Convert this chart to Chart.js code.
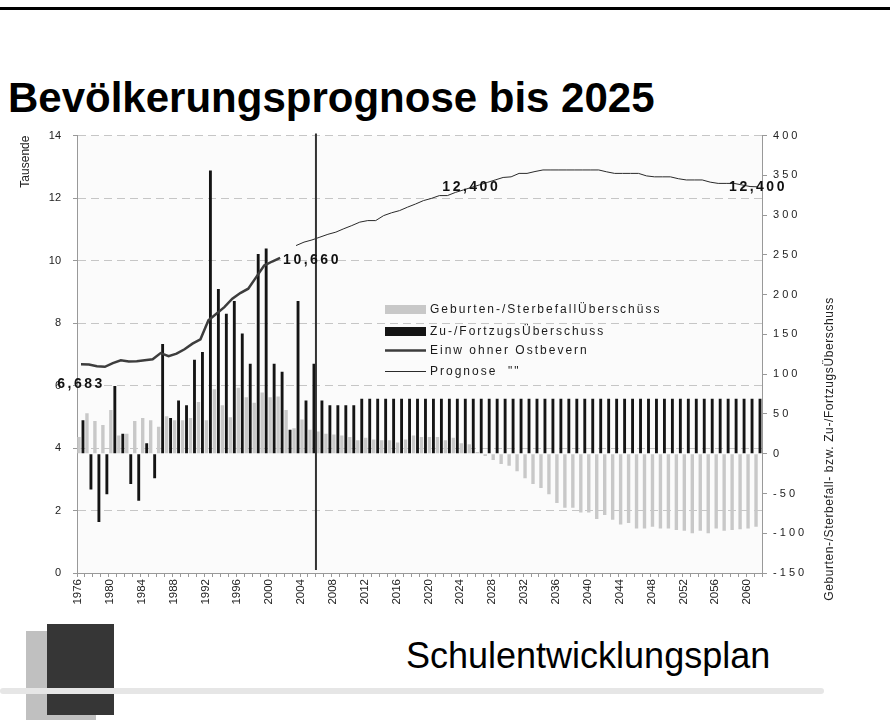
<!DOCTYPE html>
<html lang="de">
<head>
<meta charset="utf-8">
<title>Bevölkerungsprognose bis 2025</title>
<script src="https://cdn.jsdelivr.net/npm/chart.js@4.4.1/dist/chart.umd.min.js"></script>
<style>
  html, body { margin: 0; padding: 0; background: #fff; }
  body { position: relative; width: 890px; height: 720px; overflow: hidden;
         font-family: "Liberation Sans", Arial, Helvetica, sans-serif; color: #000; }
  .rule { position: absolute; left: 0; top: 7px; width: 890px; height: 3px; background: #000; }
  h1 { position: absolute; left: 8px; top: 77px; margin: 0; font-size: 42px; line-height: 42px;
       font-weight: bold; white-space: nowrap; }
  #wrap { position: absolute; left: 0; top: 117px; width: 890px; height: 503px; }
  .blk-grey { position: absolute; left: 26px; top: 631px; width: 70px; height: 89px; background: #c0c0c0; }
  .blk-dark { position: absolute; left: 47px; top: 624px; width: 67px; height: 91px; background: #363636; }
  .band { position: absolute; left: 0; top: 688px; width: 824px; height: 6px; background: #e6e6e6; border-radius: 3px; }
  .footer { position: absolute; left: 406px; top: 638px; font-size: 36px; line-height: 36px; white-space: nowrap; }
</style>
</head>
<body>
<div class="rule"></div>
<h1>Bevölkerungsprognose bis 2025</h1>
<div id="wrap"><canvas id="chart" width="890" height="503"></canvas></div>
<div class="blk-grey"></div>
<div class="blk-dark"></div>
<div class="band"></div>
<div class="footer">Schulentwicklungsplan</div>

<script>
// years on the x axis
const years = [
  1976, 1977, 1978, 1979, 1980, 1981, 1982, 1983, 1984, 1985,
  1986, 1987, 1988, 1989, 1990, 1991, 1992, 1993, 1994, 1995,
  1996, 1997, 1998, 1999, 2000, 2001, 2002, 2003, 2004, 2005,
  2006, 2007, 2008, 2009, 2010, 2011, 2012, 2013, 2014, 2015,
  2016, 2017, 2018, 2019, 2020, 2021, 2022, 2023, 2024, 2025,
  2026, 2027, 2028, 2029, 2030, 2031, 2032, 2033, 2034, 2035,
  2036, 2037, 2038, 2039, 2040, 2041, 2042, 2043, 2044, 2045,
  2046, 2047, 2048, 2049, 2050, 2051, 2052, 2053, 2054, 2055,
  2056, 2057, 2058, 2059, 2060, 2061
];

// Geburten-/Sterbefallüberschuss (persons, right axis)
const geburtenSaldo = [
  21, 51, 41, 36, 55, 23, 25, 41, 45, 42,
  34, 47, 42, 42, 45, 65, 42, 81, 61, 46,
  83, 71, 64, 77, 71, 72, 55, 32, 43, 30,
  28, 25, 24, 23, 21, 17, 20, 18, 17, 17,
  14, 18, 23, 21, 21, 21, 17, 20, 13, 12,
  2, -3, -8, -13, -15, -22, -31, -38, -43, -51,
  -62, -68, -68, -74, -74, -82, -77, -83, -89, -87,
  -94, -94, -92, -94, -94, -96, -97, -100, -97, -100,
  -94, -97, -96, -95, -94, -92
];

// Zu-/Fortzugsüberschuss (persons, right axis)
const wanderungsSaldo = [
  42, -45, -86, -51, 85, 25, -38, -59, 13, -31,
  138, 45, 67, 61, 118, 128, 356, 207, 176, 192,
  151, 113, 251, 258, 113, 103, 30, 192, 67, 113,
  67, 61, 61, 61, 61, 69, 69, 69, 69, 69,
  69, 69, 69, 69, 69, 69, 69, 69, 69, 69,
  69, 69, 69, 69, 69, 69, 69, 69, 69, 69,
  69, 69, 69, 69, 69, 69, 69, 69, 69, 69,
  69, 69, 69, 69, 69, 69, 69, 69, 69, 69,
  69, 69, 69, 69, 69, 69
];

// Einwohner in Tausend, 1976-2001
const einwohner = [
  6.68, 6.67, 6.62, 6.60, 6.72, 6.81, 6.77, 6.78, 6.81, 6.84,
  7.04, 6.94, 7.02, 7.16, 7.34, 7.48, 8.09, 8.30, 8.51, 8.78,
  8.96, 9.10, 9.47, 9.84, 9.97, 10.09
];

// Prognose in Tausend, 2003-2061
const prognoseStart = 2003;
const prognose = [
  10.48, 10.59, 10.66, 10.75, 10.84, 10.91, 11.02, 11.12, 11.23, 11.28,
  11.28, 11.44, 11.53, 11.60, 11.71, 11.81, 11.92, 11.99, 12.08, 12.08,
  12.18, 12.26, 12.34, 12.42, 12.50, 12.58, 12.66, 12.68, 12.79, 12.79,
  12.85, 12.90, 12.90, 12.90, 12.90, 12.90, 12.90, 12.90, 12.90, 12.84,
  12.79, 12.79, 12.79, 12.79, 12.71, 12.68, 12.68, 12.68, 12.62, 12.58,
  12.58, 12.58, 12.51, 12.47, 12.47, 12.47, 12.42, 12.37, 12.36
];

const valueLabels = ['6,683', '10,660', '12,400', '12,400'];
const markerYear = 2006;
const leftAxis = { min: 0, max: 14, step: 2 };
const rightAxis = { min: -150, max: 400, step: 50 };
const rightTitle = 'Geburten-/Sterbefall- bzw. Zu-/FortzugsÜberschuss';

// pad the line series to the full year range
const einwSeries = einwohner.concat(new Array(years.length - einwohner.length).fill(null));
const progSeries = new Array(years.indexOf(prognoseStart)).fill(null).concat(prognose);

const FONT = '"Liberation Sans", Arial, Helvetica, sans-serif';
Chart.defaults.font.family = FONT;

// light plot background
const plotBackground = {
  id: 'plotBackground',
  beforeDraw(chart) {
    const { ctx, chartArea: a } = chart;
    ctx.save();
    ctx.fillStyle = '#fbfbfb';
    ctx.fillRect(a.left, a.top, a.width, a.height);
    ctx.restore();
  }
};

// marker line, value labels, legend box and right axis title
const overlay = {
  id: 'overlay',
  afterDatasetsDraw(chart) {
    const { ctx, chartArea: a, scales: { x } } = chart;
    const ds = chart.data.datasets;
    ctx.save();

    const i = years.indexOf(markerYear);
    const xm = (x.getPixelForValue(i - 1) + x.getPixelForValue(i)) / 2;
    ctx.strokeStyle = '#333';
    ctx.lineWidth = 2;
    ctx.beginPath();
    ctx.moveTo(xm, a.top - 2);
    ctx.lineTo(xm, a.bottom - 3);
    ctx.stroke();

    ctx.font = 'bold 14px ' + FONT;
    ctx.fillStyle = '#111';
    ctx.letterSpacing = '2.5px';
    ctx.textBaseline = 'middle';
    const ep = chart.getDatasetMeta(2).data;
    const pp = chart.getDatasetMeta(3).data;
    const first = ep[0];
    const lastE = ep[einwohner.length - 1];
    const mid = pp[years.indexOf(2025)];
    const lastP = pp[years.length - 1];
    ctx.textAlign = 'center';
    ctx.fillText(valueLabels[0], first.x, first.y + 20);
    ctx.textAlign = 'left';
    ctx.fillText(valueLabels[1], lastE.x + 3, lastE.y + 2);
    ctx.textAlign = 'center';
    ctx.fillText(valueLabels[2], mid.x, mid.y);
    ctx.fillText(valueLabels[3], lastP.x, lastP.y);

    // legend
    const lx = 385, lw = 41;
    const rowsY = [192.5, 214.5, 233.5, 254.5];
    ctx.fillStyle = ds[0].backgroundColor;
    ctx.fillRect(lx, rowsY[0] - 4.5, lw, 9);
    ctx.fillStyle = ds[1].backgroundColor;
    ctx.fillRect(lx, rowsY[1] - 4.5, lw, 9);
    ctx.strokeStyle = ds[2].borderColor;
    ctx.lineWidth = ds[2].borderWidth;
    ctx.beginPath(); ctx.moveTo(lx, rowsY[2]); ctx.lineTo(lx + lw, rowsY[2]); ctx.stroke();
    ctx.strokeStyle = ds[3].borderColor;
    ctx.lineWidth = ds[3].borderWidth;
    ctx.beginPath(); ctx.moveTo(lx, rowsY[3]); ctx.lineTo(lx + lw, rowsY[3]); ctx.stroke();
    ctx.font = '12px ' + FONT;
    ctx.letterSpacing = '2px';
    ctx.fillStyle = '#1a1a1a';
    ctx.textAlign = 'left';
    ds.forEach((d, k) => ctx.fillText(d.label, lx + lw + 4, rowsY[k]));

    // right axis title, reading upwards
    ctx.letterSpacing = '0.6px';
    ctx.font = '12px ' + FONT;
    ctx.fillStyle = '#222';
    ctx.translate(830, 332);
    ctx.rotate(-Math.PI / 2);
    ctx.textAlign = 'center';
    ctx.fillText(rightTitle, 0, 0);
    ctx.restore();
  }
};

new Chart(document.getElementById('chart'), {
  type: 'bar',
  data: {
    labels: years,
    datasets: [
      {
        label: 'Geburten-/SterbefallÜberschüss',
        data: geburtenSaldo,
        yAxisID: 'yR',
        backgroundColor: '#c8c8c8',
        categoryPercentage: 1.0,
        barPercentage: 0.85,
        order: 2
      },
      {
        label: 'Zu-/FortzugsÜberschuss',
        data: wanderungsSaldo,
        yAxisID: 'yR',
        backgroundColor: '#141414',
        categoryPercentage: 1.0,
        barPercentage: 0.72,
        order: 2
      },
      {
        type: 'line',
        label: 'Einw ohner Ostbevern',
        data: einwSeries,
        yAxisID: 'yL',
        borderColor: '#3d3d3d',
        borderWidth: 2.5,
        pointRadius: 0,
        tension: 0,
        order: 1
      },
      {
        type: 'line',
        label: 'Prognose  ""',
        data: progSeries,
        yAxisID: 'yL',
        borderColor: '#2a2a2a',
        borderWidth: 1,
        pointRadius: 0,
        tension: 0,
        order: 1
      }
    ]
  },
  options: {
    responsive: false,
    animation: false,
    layout: { padding: { top: 2, left: 0, right: 0, bottom: 0 } },
    plugins: { legend: { display: false }, tooltip: { enabled: false } },
    scales: {
      x: {
        offset: true,
        grid: { offset: true, drawOnChartArea: false, tickLength: 4, color: '#999' },
        border: { color: '#999' },
        ticks: {
          autoSkip: false,
          minRotation: 90,
          maxRotation: 90,
          padding: 2,
          labelOffset: -3,
          color: '#222',
          font: { size: 11.5 },
          callback: (v, i) => (years[i] % 4 === 0 ? String(years[i]) : '')
        },
        afterFit(s) { s.height = 47; }
      },
      yL: {
        position: 'left',
        min: leftAxis.min,
        max: leftAxis.max,
        ticks: { stepSize: leftAxis.step, padding: 12, color: '#222', font: { size: 11 } },
        grid: { color: '#c6c6c6', tickColor: '#999', tickLength: 4 },
        border: { color: '#999', dash: [8, 5] },
        title: {
          display: true, text: 'Tausende', align: 'end', color: '#222',
          font: { size: 12 }, padding: { top: 18, bottom: 0 }
        },
        afterFit(s) { s.width = 77; }
      },
      yR: {
        position: 'right',
        min: rightAxis.min,
        max: rightAxis.max,
        ticks: {
          stepSize: rightAxis.step, padding: 6, color: '#222', font: { size: 11 },
          callback: v => String(v).split('').join(' ')
        },
        grid: { drawOnChartArea: false, tickLength: 5, color: '#999' },
        border: { color: '#999' },
        afterFit(s) { s.width = 128; }
      }
    }
  },
  plugins: [plotBackground, overlay]
});
</script>
</body>
</html>
